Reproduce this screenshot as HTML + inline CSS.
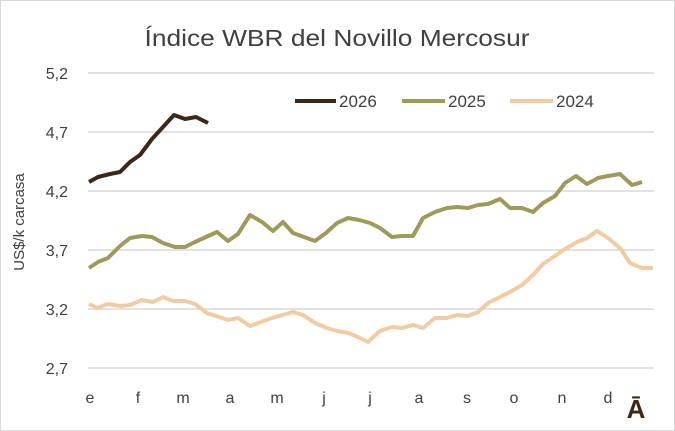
<!DOCTYPE html>
<html><head><meta charset="utf-8"><style>
body{margin:0;background:#fff}
svg{display:block;font-family:"Liberation Sans",sans-serif}
</style></head><body>
<svg width="675" height="431" viewBox="0 0 675 431">
<rect x="0.5" y="0.5" width="674" height="430" fill="#fff" stroke="#d9d9d9"/>
<text x="337" y="46" font-size="23" fill="#404040" text-anchor="middle" textLength="385" lengthAdjust="spacingAndGlyphs">Índice WBR del Novillo Mercosur</text>
<g stroke="#d9d9d9" stroke-width="1.5">
<line x1="88" x2="654" y1="73" y2="73"/><line x1="88" x2="654" y1="132" y2="132"/>
<line x1="88" x2="654" y1="191" y2="191"/><line x1="88" x2="654" y1="250" y2="250"/>
<line x1="88" x2="654" y1="309" y2="309"/><line x1="88" x2="654" y1="368" y2="368"/>
</g>
<g font-size="16" fill="#404040" text-anchor="end">
<text x="68" y="79">5,2</text><text x="68" y="138">4,7</text><text x="68" y="197">4,2</text>
<text x="68" y="256">3,7</text><text x="68" y="315">3,2</text><text x="68" y="374">2,7</text>
</g>
<text transform="translate(24,222) rotate(-90)" font-size="15" fill="#404040" text-anchor="middle">US$/k carcasa</text>
<g font-size="16" fill="#404040" text-anchor="middle">
<text x="90" y="403">e</text><text x="138" y="403">f</text><text x="183" y="403">m</text>
<text x="230" y="403">a</text><text x="277" y="403">m</text><text x="324" y="403">j</text>
<text x="370" y="403">j</text><text x="419" y="403">a</text><text x="467" y="403">s</text>
<text x="514" y="403">o</text><text x="562" y="403">n</text><text x="608" y="403">d</text>
</g>
<text x="636" y="418" font-size="26" font-weight="bold" fill="#3d2817" text-anchor="middle">Ā</text>
<g fill="none" stroke-width="4" stroke-linejoin="round" stroke-linecap="butt">
<polyline stroke="#f0cba3" points="89,304 97,308 108,304 120,306 130,305 142,300 153,302 163,297 173,301 185,301 195,304 207,313 228,320 238,318 250,326 272,318 293,312 303,315 315,323 327,328 337,331 348,333 358,337 368,342 380,331 392,327 402,328 413,325 423,328 435,318 447,318 457,315 468,316 478,312 488,303 500,297 510,292 522,285 533,275 543,264 555,256 565,249 577,242 587,238 597,231 608,238 620,248 630,263 642,268 653,268"/>
<polyline stroke="#a09a5a" points="89,268 98,262 108,258 120,246 130,238 142,236 152,237 163,243 175,247 185,247 195,242 217,232 228,241 238,234 250,215 262,222 273,231 283,222 293,233 315,241 326,233 337,223 348,218 359,220 370,223 380,228 392,237 402,236 413,236 423,218 435,212 447,208 457,207 468,208 478,205 488,204 500,199 510,208 522,208 533,212 543,203 555,196 565,183 576,176 587,184 598,178 608,176 620,174 632,185 642,182"/>
<polyline stroke="#3d2817" points="89,182 98,177 110,174 120,172 130,162 140,155 152,139 163,127 174,115 185,119 196,117 208,123"/>
</g>
<g stroke-width="4">
<line x1="295" x2="336" y1="101" y2="101" stroke="#3d2817"/>
<line x1="402" x2="445" y1="101" y2="101" stroke="#a09a5a"/>
<line x1="510" x2="553" y1="101" y2="101" stroke="#f0cba3"/>
</g>
<g font-size="17" fill="#404040">
<text x="339" y="107">2026</text><text x="448" y="107">2025</text><text x="556" y="107">2024</text>
</g>
</svg>
</body></html>
